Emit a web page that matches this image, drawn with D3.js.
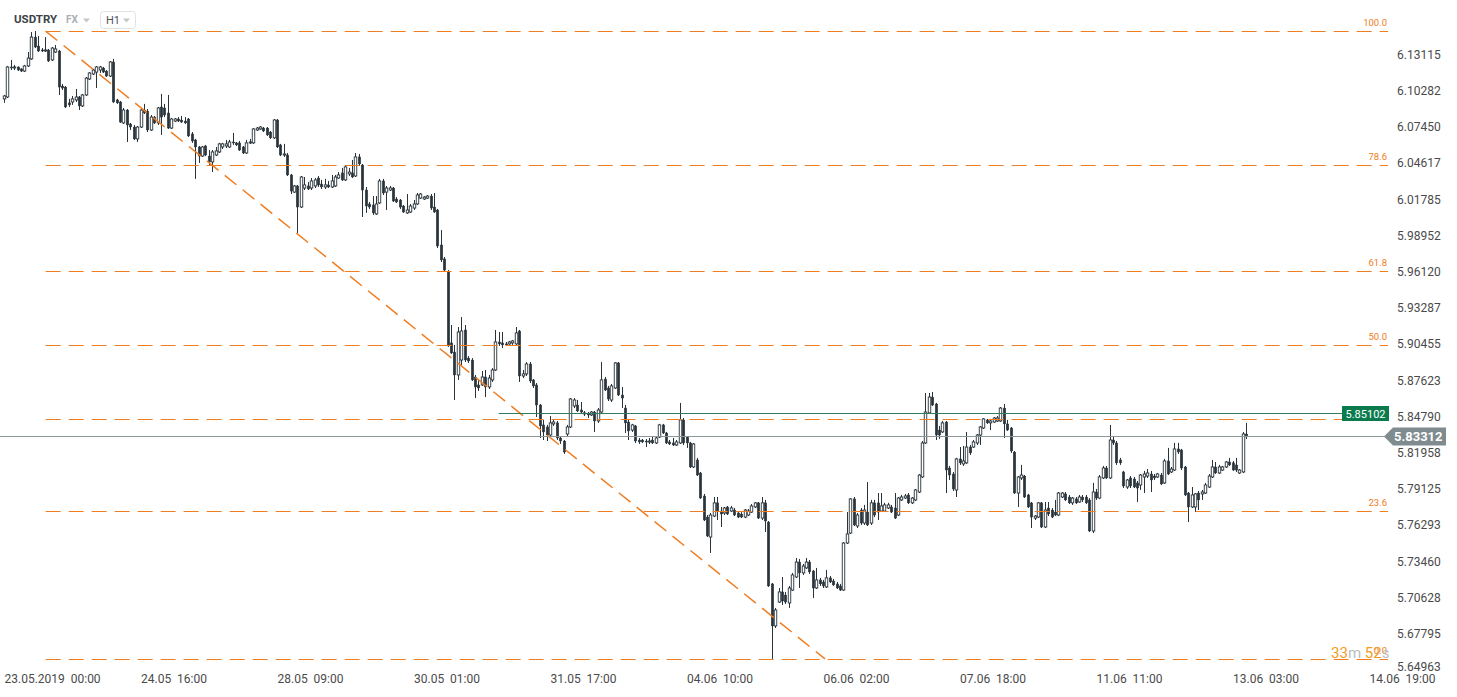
<!DOCTYPE html>
<html>
<head>
<meta charset="utf-8">
<title>USDTRY H1</title>
<script src="https://cdnjs.cloudflare.com/ajax/libs/d3/7.8.5/d3.min.js"></script>
<style>
    html, body { margin: 0; padding: 0; background: #fff; }
    svg { display: block; font-family: Roboto, "Noto Sans", sans-serif; }
</style>
</head>
<body>
<svg id="chart" width="1457" height="697"></svg>
<script>
// USDTRY hourly candles, one array per trading day, rows are [open, high, low, close]
var may23 = [
    [6.0968, 6.0999, 6.0937, 6.0991], [6.0983, 6.1226, 6.0975, 6.1218], [6.1218, 6.1273, 6.1194, 6.1210], [6.1210, 6.1234, 6.1194, 6.1218],
    [6.1218, 6.1222, 6.1187, 6.1194], [6.1203, 6.1207, 6.1178, 6.1186], [6.1186, 6.1234, 6.1178, 6.1226], [6.1226, 6.1335, 6.1218, 6.1288],
    [6.1281, 6.1491, 6.1273, 6.1452], [6.1452, 6.1499, 6.1366, 6.1374], [6.1382, 6.1460, 6.1335, 6.1343], [6.1351, 6.1366, 6.1335, 6.1343],
    [6.1343, 6.1452, 6.1335, 6.1351], [6.1351, 6.1359, 6.1257, 6.1265], [6.1273, 6.1374, 6.1265, 6.1366], [6.1335, 6.1390, 6.1328, 6.1359],
    [6.1343, 6.1351, 6.0999, 6.1061], [6.1069, 6.1085, 6.1038, 6.1053], [6.1061, 6.1069, 6.0897, 6.0905], [6.0937, 6.0968, 6.0905, 6.0921],
    [6.0944, 6.0991, 6.0921, 6.0968], [6.0960, 6.1046, 6.0944, 6.0983], [6.0983, 6.0991, 6.0881, 6.0913], [6.0913, 6.1007, 6.0905, 6.0999]
];
var may24 = [
    [6.0999, 6.1139, 6.0991, 6.1131], [6.1124, 6.1178, 6.1116, 6.1171], [6.1163, 6.1203, 6.1155, 6.1194], [6.1178, 6.1226, 6.1053, 6.1218],
    [6.1194, 6.1226, 6.1171, 6.1218], [6.1210, 6.1218, 6.1171, 6.1178], [6.1186, 6.1194, 6.1140, 6.1147], [6.1147, 6.1265, 6.1139, 6.1257],
    [6.1257, 6.1281, 6.0937, 6.0944], [6.0960, 6.0968, 6.0929, 6.0937], [6.0944, 6.0952, 6.0780, 6.0787], [6.0780, 6.0897, 6.0772, 6.0881],
    [6.0881, 6.0889, 6.0631, 6.0764], [6.0772, 6.0780, 6.0725, 6.0748], [6.0748, 6.0764, 6.0647, 6.0655], [6.0655, 6.0756, 6.0631, 6.0748],
    [6.0748, 6.0889, 6.0740, 6.0881], [6.0881, 6.0929, 6.0850, 6.0858], [6.0873, 6.0889, 6.0709, 6.0725], [6.0725, 6.0842, 6.0717, 6.0826],
    [6.0826, 6.0834, 6.0772, 6.0780], [6.0780, 6.0905, 6.0764, 6.0897], [6.0905, 6.1007, 6.0686, 6.0826]
];
var may27 = [
    [6.0897, 6.0929, 6.0826, 6.0842], [6.0858, 6.0999, 6.0733, 6.0740], [6.0740, 6.0819, 6.0733, 6.0811], [6.0795, 6.0819, 6.0787, 6.0811],
    [6.0811, 6.0826, 6.0787, 6.0795], [6.0803, 6.0834, 6.0780, 6.0787], [6.0795, 6.0826, 6.0772, 6.0780], [6.0811, 6.0819, 6.0670, 6.0678],
    [6.0694, 6.0709, 6.0624, 6.0639], [6.0647, 6.0655, 6.0342, 6.0592], [6.0592, 6.0600, 6.0467, 6.0521], [6.0521, 6.0600, 6.0514, 6.0592],
    [6.0600, 6.0608, 6.0521, 6.0529], [6.0521, 6.0568, 6.0451, 6.0475], [6.0475, 6.0568, 6.0396, 6.0553], [6.0529, 6.0592, 6.0521, 6.0561],
    [6.0553, 6.0624, 6.0545, 6.0616], [6.0592, 6.0624, 6.0576, 6.0616], [6.0600, 6.0647, 6.0584, 6.0616], [6.0592, 6.0647, 6.0584, 6.0631],
    [6.0631, 6.0702, 6.0608, 6.0624], [6.0624, 6.0631, 6.0600, 6.0608], [6.0624, 6.0639, 6.0561, 6.0568], [6.0592, 6.0600, 6.0537, 6.0545]
];
var may28 = [
    [6.0545, 6.0647, 6.0537, 6.0624], [6.0624, 6.0655, 6.0616, 6.0631], [6.0624, 6.0740, 6.0616, 6.0733], [6.0725, 6.0748, 6.0717, 6.0740],
    [6.0733, 6.0756, 6.0725, 6.0748], [6.0740, 6.0748, 6.0709, 6.0717], [6.0740, 6.0748, 6.0678, 6.0686], [6.0709, 6.0717, 6.0655, 6.0663],
    [6.0663, 6.0811, 6.0655, 6.0803], [6.0803, 6.0811, 6.0584, 6.0592], [6.0608, 6.0616, 6.0521, 6.0529], [6.0529, 6.0616, 6.0514, 6.0537],
    [6.0529, 6.0545, 6.0365, 6.0373], [6.0373, 6.0381, 6.0224, 6.0247], [6.0239, 6.0295, 6.0232, 6.0287], [6.0287, 6.0295, 5.9919, 6.0122],
    [6.0122, 6.0365, 6.0114, 6.0357], [6.0271, 6.0357, 6.0255, 6.0295], [6.0287, 6.0318, 6.0255, 6.0263], [6.0271, 6.0349, 6.0255, 6.0326],
    [6.0287, 6.0349, 6.0271, 6.0334], [6.0349, 6.0365, 6.0279, 6.0295], [6.0302, 6.0334, 6.0263, 6.0279], [6.0279, 6.0342, 6.0263, 6.0295]
];
var may29 = [
    [6.0295, 6.0326, 6.0271, 6.0279], [6.0279, 6.0373, 6.0271, 6.0326], [6.0287, 6.0373, 6.0279, 6.0357], [6.0349, 6.0396, 6.0342, 6.0373],
    [6.0389, 6.0428, 6.0326, 6.0334], [6.0334, 6.0451, 6.0326, 6.0436], [6.0381, 6.0428, 6.0365, 6.0396], [6.0389, 6.0490, 6.0349, 6.0357],
    [6.0365, 6.0545, 6.0357, 6.0514], [6.0514, 6.0537, 6.0443, 6.0459], [6.0451, 6.0459, 6.0044, 6.0255], [6.0255, 6.0279, 6.0076, 6.0130],
    [6.0146, 6.0161, 6.0107, 6.0122], [6.0138, 6.0208, 6.0060, 6.0076], [6.0068, 6.0208, 6.0060, 6.0146], [6.0154, 6.0342, 6.0146, 6.0326],
    [6.0326, 6.0342, 6.0216, 6.0232], [6.0239, 6.0287, 6.0099, 6.0271], [6.0255, 6.0287, 6.0247, 6.0271], [6.0271, 6.0279, 6.0161, 6.0169],
    [6.0185, 6.0200, 6.0154, 6.0161], [6.0177, 6.0185, 6.0107, 6.0122], [6.0130, 6.0138, 6.0076, 6.0083], [6.0076, 6.0224, 6.0068, 6.0099]
];
var may30 = [
    [6.0083, 6.0146, 6.0076, 6.0130], [6.0114, 6.0177, 6.0099, 6.0146], [6.0146, 6.0232, 6.0138, 6.0216], [6.0192, 6.0232, 6.0185, 6.0224],
    [6.0185, 6.0208, 6.0177, 6.0200], [6.0192, 6.0216, 6.0185, 6.0208], [6.0208, 6.0224, 6.0099, 6.0114], [6.0122, 6.0232, 6.0076, 6.0083],
    [6.0099, 6.0107, 5.9801, 5.9817], [5.9825, 5.9942, 5.9692, 5.9708], [5.9716, 5.9731, 5.9614, 5.9629], [5.9614, 5.9629, 5.9027, 5.9035],
    [5.9059, 5.9199, 5.8972, 5.8980], [5.8987, 5.9043, 5.8612, 5.8808], [5.8808, 5.9183, 5.8769, 5.9144], [5.8925, 5.9261, 5.8886, 5.9152],
    [5.9160, 5.9199, 5.8909, 5.8925], [5.8940, 5.8956, 5.8902, 5.8917], [5.8925, 5.8940, 5.8761, 5.8769], [5.8792, 5.8808, 5.8627, 5.8714],
    [5.8730, 5.8769, 5.8683, 5.8706], [5.8730, 5.8839, 5.8722, 5.8792], [5.8792, 5.8847, 5.8635, 5.8714], [5.8714, 5.8808, 5.8698, 5.8784]
];
var may31 = [
    [5.8769, 5.8862, 5.8753, 5.8847], [5.8847, 5.9160, 5.8839, 5.9066], [5.9066, 5.9144, 5.9035, 5.9051], [5.9059, 5.9144, 5.9019, 5.9043],
    [5.9051, 5.9066, 5.9035, 5.9043], [5.9051, 5.9074, 5.9043, 5.9066], [5.9059, 5.9082, 5.9043, 5.9074], [5.9051, 5.9183, 5.9043, 5.9137],
    [5.9152, 5.9160, 5.8753, 5.8800], [5.8800, 5.8847, 5.8784, 5.8816], [5.8816, 5.8909, 5.8800, 5.8894], [5.8894, 5.8909, 5.8745, 5.8761],
    [5.8769, 5.8776, 5.8706, 5.8722], [5.8730, 5.8745, 5.8479, 5.8573], [5.8573, 5.8581, 5.8315, 5.8409], [5.8417, 5.8456, 5.8299, 5.8362],
    [5.8401, 5.8417, 5.8291, 5.8338], [5.8338, 5.8487, 5.8322, 5.8433], [5.8425, 5.8456, 5.8409, 5.8440], [5.8433, 5.8448, 5.8299, 5.8315],
    [5.8315, 5.8330, 5.8268, 5.8291], [5.8291, 5.8299, 5.8190, 5.8205], [5.8346, 5.8417, 5.8330, 5.8401]
];
var jun03 = [
    [5.8401, 5.8627, 5.8393, 5.8620], [5.8565, 5.8627, 5.8549, 5.8612], [5.8573, 5.8612, 5.8518, 5.8526], [5.8534, 5.8596, 5.8511, 5.8518],
    [5.8503, 5.8526, 5.8487, 5.8511], [5.8503, 5.8518, 5.8471, 5.8495], [5.8495, 5.8526, 5.8487, 5.8518], [5.8518, 5.8526, 5.8362, 5.8448],
    [5.8448, 5.8549, 5.8433, 5.8534], [5.8518, 5.8909, 5.8511, 5.8769], [5.8776, 5.8792, 5.8683, 5.8690], [5.8706, 5.8722, 5.8604, 5.8620],
    [5.8612, 5.8737, 5.8596, 5.8722], [5.8706, 5.8909, 5.8698, 5.8902], [5.8902, 5.8909, 5.8643, 5.8651], [5.8651, 5.8714, 5.8549, 5.8627],
    [5.8549, 5.8573, 5.8354, 5.8433], [5.8440, 5.8456, 5.8299, 5.8370], [5.8377, 5.8425, 5.8362, 5.8417], [5.8409, 5.8417, 5.8276, 5.8291],
    [5.8299, 5.8315, 5.8268, 5.8284], [5.8299, 5.8307, 5.8276, 5.8284], [5.8291, 5.8307, 5.8244, 5.8284], [5.8284, 5.8315, 5.8268, 5.8291]
];
var jun04 = [
    [5.8299, 5.8330, 5.8268, 5.8276], [5.8276, 5.8330, 5.8268, 5.8315], [5.8322, 5.8425, 5.8315, 5.8417], [5.8417, 5.8425, 5.8346, 5.8354],
    [5.8354, 5.8362, 5.8268, 5.8276], [5.8284, 5.8299, 5.8260, 5.8268], [5.8276, 5.8315, 5.8252, 5.8260], [5.8260, 5.8299, 5.8252, 5.8284],
    [5.8276, 5.8589, 5.8268, 5.8456], [5.8456, 5.8471, 5.8260, 5.8276], [5.8322, 5.8330, 5.8237, 5.8276], [5.8276, 5.8284, 5.8080, 5.8088],
    [5.8088, 5.8276, 5.8080, 5.8268], [5.8143, 5.8159, 5.8017, 5.8025], [5.8041, 5.8049, 5.7838, 5.7845], [5.7861, 5.7877, 5.7665, 5.7673],
    [5.7696, 5.7712, 5.7540, 5.7548], [5.7540, 5.7728, 5.7415, 5.7712], [5.7704, 5.7853, 5.7696, 5.7807], [5.7807, 5.7853, 5.7673, 5.7743],
    [5.7743, 5.7775, 5.7618, 5.7720], [5.7728, 5.7775, 5.7712, 5.7767], [5.7775, 5.7783, 5.7712, 5.7720], [5.7743, 5.7783, 5.7735, 5.7767]
];
var jun05 = [
    [5.7751, 5.7767, 5.7704, 5.7712], [5.7728, 5.7735, 5.7688, 5.7696], [5.7720, 5.7735, 5.7688, 5.7696], [5.7696, 5.7759, 5.7688, 5.7751],
    [5.7712, 5.7759, 5.7704, 5.7743], [5.7735, 5.7798, 5.7728, 5.7783], [5.7775, 5.7814, 5.7767, 5.7807], [5.7807, 5.7814, 5.7681, 5.7688],
    [5.7688, 5.7853, 5.7673, 5.7807], [5.7807, 5.7830, 5.7579, 5.7665], [5.7657, 5.7665, 5.7149, 5.7157], [5.7173, 5.7180, 5.6586, 5.6844],
    [5.6844, 5.6985, 5.6828, 5.6969], [5.7031, 5.7141, 5.7024, 5.7110], [5.7110, 5.7227, 5.7008, 5.7039], [5.7086, 5.7110, 5.7016, 5.7031],
    [5.7024, 5.7157, 5.6985, 5.7141], [5.7125, 5.7259, 5.7118, 5.7243], [5.7227, 5.7376, 5.7220, 5.7344], [5.7344, 5.7368, 5.7141, 5.7259],
    [5.7259, 5.7329, 5.7243, 5.7313], [5.7298, 5.7376, 5.7290, 5.7344], [5.7344, 5.7360, 5.7251, 5.7267], [5.7274, 5.7282, 5.7063, 5.7141]
];
var jun06 = [
    [5.7141, 5.7298, 5.7133, 5.7204], [5.7204, 5.7220, 5.7157, 5.7173], [5.7188, 5.7204, 5.7141, 5.7157], [5.7149, 5.7282, 5.7141, 5.7220],
    [5.7220, 5.7235, 5.7180, 5.7188], [5.7196, 5.7212, 5.7157, 5.7165], [5.7173, 5.7188, 5.7133, 5.7141], [5.7157, 5.7173, 5.7118, 5.7125],
    [5.7125, 5.7501, 5.7118, 5.7493], [5.7493, 5.7735, 5.7485, 5.7564], [5.7571, 5.7845, 5.7564, 5.7838], [5.7838, 5.7853, 5.7626, 5.7634],
    [5.7626, 5.7728, 5.7610, 5.7712], [5.7751, 5.7767, 5.7634, 5.7649], [5.7649, 5.7791, 5.7634, 5.7751], [5.7735, 5.7970, 5.7626, 5.7634],
    [5.7649, 5.7830, 5.7634, 5.7807], [5.7807, 5.7830, 5.7696, 5.7712], [5.7807, 5.7884, 5.7673, 5.7735], [5.7743, 5.7884, 5.7735, 5.7783],
    [5.7743, 5.7807, 5.7735, 5.7791], [5.7767, 5.7807, 5.7759, 5.7791], [5.7775, 5.7791, 5.7728, 5.7735], [5.7767, 5.7884, 5.7681, 5.7688]
];
var jun07 = [
    [5.7712, 5.7853, 5.7704, 5.7845], [5.7830, 5.7869, 5.7822, 5.7853], [5.7845, 5.7877, 5.7838, 5.7861], [5.7869, 5.7884, 5.7798, 5.7807],
    [5.7807, 5.7853, 5.7798, 5.7845], [5.7830, 5.7916, 5.7822, 5.7908], [5.7892, 5.8033, 5.7884, 5.8025], [5.8010, 5.8291, 5.8002, 5.8276],
    [5.8276, 5.8667, 5.8268, 5.8518], [5.8511, 5.8667, 5.8503, 5.8635], [5.8635, 5.8675, 5.8565, 5.8573], [5.8581, 5.8589, 5.8299, 5.8338],
    [5.8377, 5.8409, 5.8307, 5.8338], [5.8362, 5.8448, 5.8354, 5.8433], [5.8440, 5.8448, 5.7884, 5.8064], [5.8080, 5.8096, 5.7986, 5.8025],
    [5.8033, 5.8049, 5.7900, 5.7916], [5.7908, 5.8159, 5.7853, 5.8151], [5.8151, 5.8244, 5.8104, 5.8120], [5.8112, 5.8252, 5.8096, 5.8135],
    [5.8120, 5.8362, 5.8112, 5.8244], [5.8244, 5.8260, 5.8182, 5.8198], [5.8244, 5.8299, 5.8237, 5.8284]
];
var jun10 = [
    [5.8276, 5.8346, 5.8260, 5.8338], [5.8338, 5.8409, 5.8260, 5.8401], [5.8393, 5.8471, 5.8385, 5.8464], [5.8456, 5.8464, 5.8425, 5.8433],
    [5.8433, 5.8464, 5.8377, 5.8448], [5.8440, 5.8479, 5.8433, 5.8471], [5.8448, 5.8487, 5.8440, 5.8471], [5.8448, 5.8557, 5.8440, 5.8549],
    [5.8549, 5.8581, 5.8315, 5.8425], [5.8425, 5.8456, 5.8370, 5.8377], [5.8393, 5.8401, 5.8198, 5.8213], [5.8205, 5.8213, 5.7877, 5.7884],
    [5.7884, 5.8017, 5.7775, 5.8010], [5.8002, 5.8104, 5.7986, 5.8025], [5.8017, 5.8025, 5.7845, 5.7853], [5.7869, 5.7877, 5.7767, 5.7775],
    [5.7807, 5.7814, 5.7610, 5.7696], [5.7688, 5.7712, 5.7673, 5.7704], [5.7696, 5.7814, 5.7688, 5.7807], [5.7807, 5.7814, 5.7610, 5.7618],
    [5.7618, 5.7814, 5.7610, 5.7751], [5.7767, 5.7814, 5.7704, 5.7720], [5.7751, 5.7767, 5.7688, 5.7696], [5.7735, 5.7830, 5.7704, 5.7712]
];
var jun11 = [
    [5.7712, 5.7892, 5.7704, 5.7884], [5.7853, 5.7892, 5.7845, 5.7884], [5.7877, 5.7892, 5.7822, 5.7830], [5.7853, 5.7869, 5.7798, 5.7807],
    [5.7807, 5.7853, 5.7791, 5.7845], [5.7838, 5.7853, 5.7798, 5.7807], [5.7814, 5.7869, 5.7807, 5.7853], [5.7853, 5.7869, 5.7814, 5.7830],
    [5.7853, 5.7869, 5.7798, 5.7807], [5.7830, 5.7845, 5.7579, 5.7587], [5.7587, 5.7963, 5.7571, 5.7892], [5.7892, 5.7916, 5.7830, 5.7845],
    [5.7845, 5.8025, 5.7838, 5.8010], [5.8002, 5.8096, 5.7994, 5.8080], [5.8080, 5.8096, 5.7994, 5.8002], [5.8002, 5.8417, 5.7994, 5.8299],
    [5.8299, 5.8330, 5.8260, 5.8276], [5.8276, 5.8291, 5.8104, 5.8120], [5.8143, 5.8159, 5.8104, 5.8120], [5.8049, 5.8057, 5.7923, 5.7939],
    [5.7931, 5.7994, 5.7916, 5.7986], [5.8002, 5.8017, 5.7923, 5.7939], [5.7994, 5.8010, 5.7923, 5.7931], [5.7963, 5.7978, 5.7814, 5.7923]
];
var jun12 = [
    [5.7947, 5.8033, 5.7908, 5.8025], [5.8010, 5.8057, 5.7884, 5.8033], [5.8017, 5.8072, 5.8002, 5.8041], [5.8033, 5.8057, 5.7892, 5.7986],
    [5.8017, 5.8033, 5.7986, 5.8002], [5.8010, 5.8041, 5.8002, 5.8033], [5.8025, 5.8041, 5.7947, 5.7955], [5.7963, 5.8151, 5.7955, 5.8135],
    [5.8135, 5.8237, 5.8025, 5.8033], [5.8049, 5.8088, 5.8041, 5.8072], [5.8064, 5.8276, 5.8057, 5.8229], [5.8229, 5.8276, 5.8190, 5.8205],
    [5.8221, 5.8229, 5.8064, 5.8080], [5.8088, 5.8096, 5.7861, 5.7869], [5.7884, 5.7892, 5.7657, 5.7775], [5.7775, 5.7931, 5.7767, 5.7869],
    [5.7775, 5.7884, 5.7735, 5.7877], [5.7884, 5.7900, 5.7751, 5.7830], [5.7877, 5.7908, 5.7830, 5.7892], [5.7884, 5.7963, 5.7877, 5.7947],
    [5.7931, 5.8033, 5.7923, 5.8017], [5.8010, 5.8143, 5.8002, 5.8088], [5.8088, 5.8127, 5.8033, 5.8041], [5.8041, 5.8104, 5.8033, 5.8088]
];
var jun13 = [
    [5.8064, 5.8096, 5.8057, 5.8088], [5.8088, 5.8135, 5.8080, 5.8127], [5.8127, 5.8159, 5.8096, 5.8104], [5.8120, 5.8135, 5.8057, 5.8064],
    [5.8104, 5.8159, 5.8049, 5.8064], [5.8041, 5.8072, 5.8033, 5.8064], [5.8049, 5.8362, 5.8041, 5.8346], [5.8346, 5.8433, 5.8307, 5.83312]
];

// price axis labels and time axis labels (every 40 hourly bars)
var priceTicks = [6.13115, 6.10282, 6.07450, 6.04617, 6.01785, 5.98952, 5.96120, 5.93287, 5.90455,
    5.87623, 5.84790, 5.81958, 5.79125, 5.76293, 5.73460, 5.70628, 5.67795, 5.64963];
var timeTickBars = [0, 40, 80, 120, 160, 200, 240, 280, 320, 360, 400];
var timeTickLabels = ["23.05.2019  00:00", "24.05  16:00", "28.05  09:00", "30.05  01:00", "31.05  17:00",
    "04.06  10:00", "06.06  02:00", "07.06  18:00", "11.06  11:00", "13.06  03:00", "14.06  19:00"];

// user drawings: trend line from the top to the bottom, fibonacci levels on the same swing
var swingHigh = { bar: 12.2, price: 6.1499 };
var swingLow = { bar: 240.6, price: 5.6586 };
var fibLevels = [100, 78.6, 61.8, 50, 38.2, 23.6, 0];
var alertLevel = { bar: 145, price: 5.85102 };
var countdown = ["33", "m ", "52", "s"];

var candles = [].concat(may23, may24, may27, may28, may29, may30, may31, jun03, jun04,
    jun05, jun06, jun07, jun10, jun11, jun12, jun13).map(function (d, i) {
    return { bar: i, open: d[0], high: d[1], low: d[2], close: d[3] };
});
var lastClose = candles[candles.length - 1].close;

var plotRight = 1388;
var dark = "#29333a";
var orange = "#ef7d22";

// bar index -> x, price -> y
var x = d3.scaleLinear().domain([0, 400]).range([4, 1369]);
var y = d3.scaleLinear().domain([5.64836, 6.1742]).range([672, 0]);

var svg = d3.select("#chart");

// candles
var bodyW = 2.5;
var candle = svg.append("g").selectAll("g")
    .data(candles)
    .enter().append("g");

candle.append("line")
    .attr("x1", function (d) { return Math.round(x(d.bar)) + 0.5; })
    .attr("x2", function (d) { return Math.round(x(d.bar)) + 0.5; })
    .attr("y1", function (d) { return y(d.high); })
    .attr("y2", function (d) { return y(d.low); })
    .attr("stroke", dark)
    .attr("stroke-width", 1);

candle.append("rect")
    .attr("x", function (d) { return Math.round(x(d.bar)) + 0.5 - bodyW / 2; })
    .attr("y", function (d) { return y(Math.max(d.open, d.close)); })
    .attr("width", bodyW)
    .attr("height", function (d) { return Math.max(1, Math.abs(y(d.open) - y(d.close))); })
    .attr("fill", function (d) { return d.close >= d.open ? "#fff" : dark; })
    .attr("stroke", dark)
    .attr("stroke-width", function (d) { return d.close >= d.open ? 0.9 : 0.4; });

// fibonacci retracement lines
var fib = svg.append("g");
fibLevels.forEach(function (lv) {
    var p = swingLow.price + (swingHigh.price - swingLow.price) * lv / 100;
    fib.append("line")
        .attr("x1", x(swingHigh.bar))
        .attr("x2", plotRight)
        .attr("y1", Math.round(y(p)) + 0.5)
        .attr("y2", Math.round(y(p)) + 0.5)
        .attr("stroke", orange)
        .attr("stroke-width", 1)
        .attr("stroke-dasharray", "15,8");
    fib.append("text")
        .attr("x", plotRight - 1)
        .attr("y", y(p) - 5)
        .attr("text-anchor", "end")
        .attr("font-size", "9.5px")
        .attr("fill", orange)
        .text(lv.toFixed(1));
});

// trend line
svg.append("line")
    .attr("x1", x(swingHigh.bar))
    .attr("y1", y(swingHigh.price))
    .attr("x2", x(swingLow.bar))
    .attr("y2", y(swingLow.price))
    .attr("stroke", orange)
    .attr("stroke-width", 1.5)
    .attr("stroke-dasharray", "15,8");

// alert level (green) and current price (grey)
var yAlert = Math.round(y(alertLevel.price)) + 0.5;
svg.append("line")
    .attr("x1", x(alertLevel.bar)).attr("x2", 1342)
    .attr("y1", yAlert).attr("y2", yAlert)
    .attr("stroke", "#2f7d5c").attr("stroke-width", 1);

var yLast = Math.round(y(lastClose)) + 0.5;
svg.append("line")
    .attr("x1", 0).attr("x2", 1386)
    .attr("y1", yLast).attr("y2", yLast)
    .attr("stroke", "#8d979a").attr("stroke-width", 1);

svg.append("rect")
    .attr("x", 1342).attr("y", yAlert - 7.5)
    .attr("width", 47).attr("height", 15)
    .attr("fill", "#0b7a4d");
svg.append("text")
    .attr("x", 1365.5).attr("y", yAlert + 4)
    .attr("text-anchor", "middle")
    .attr("font-size", "11px")
    .attr("fill", "#fff")
    .text(alertLevel.price.toFixed(5));

svg.append("path")
    .attr("d", "M1384," + yLast + "L1393," + (yLast - 9) + "H1446V" + (yLast + 9) + "H1393Z")
    .attr("fill", "#7f8b8f");
svg.append("text")
    .attr("x", 1394).attr("y", yLast + 4.5)
    .attr("font-size", "13px")
    .attr("font-weight", "bold")
    .attr("fill", "#fff")
    .text(lastClose.toFixed(5));

// price axis on the right
var yAxis = svg.append("g")
    .attr("transform", "translate(1397,0)")
    .call(d3.axisRight(y).tickValues(priceTicks).tickSize(0).tickPadding(0)
        .tickFormat(function (d) { return d.toFixed(5); }));
yAxis.select(".domain").remove();
yAxis.selectAll("text")
    .attr("font-family", "Roboto, sans-serif")
    .attr("font-size", "12px")
    .attr("fill", "#4a4a4a");
// the lowest label is pushed up above the time axis
yAxis.selectAll(".tick")
    .attr("transform", function (d) { return "translate(0," + Math.min(y(d), 667) + ")"; });

// time axis
var xAxis = svg.append("g")
    .attr("transform", "translate(0,672)")
    .call(d3.axisBottom(x).tickValues(timeTickBars).tickSize(0).tickPadding(0)
        .tickFormat(function (d, i) { return timeTickLabels[i]; }));
xAxis.select(".domain").remove();
xAxis.selectAll("text")
    .attr("text-anchor", "start")
    .attr("dy", "10.5px")
    .attr("font-family", "Roboto, sans-serif")
    .attr("font-size", "12px")
    .attr("fill", "#4a4a4a")
    .style("white-space", "pre");

// candle countdown
var cd = svg.append("text")
    .attr("x", 1331).attr("y", 658)
    .attr("font-size", "15px")
    .style("white-space", "pre");
countdown.forEach(function (t, i) {
    cd.append("tspan")
        .attr("fill", i % 2 === 0 ? "#f39a1e" : "#b9bfc2")
        .text(t);
});

// header
svg.append("text")
    .attr("x", 14).attr("y", 23)
    .attr("font-size", "11.5px")
    .attr("font-weight", "bold")
    .attr("fill", "#3c4347")
    .text("USDTRY");
svg.append("text")
    .attr("x", 66).attr("y", 23)
    .attr("font-size", "10px")
    .attr("font-weight", "bold")
    .attr("fill", "#a9afb2")
    .text("FX");
svg.append("path")
    .attr("d", "M83,18.5h7l-3.5,4z")
    .attr("fill", "#c3c8ca");
svg.append("rect")
    .attr("x", 100.5).attr("y", 11.5)
    .attr("width", 35).attr("height", 17)
    .attr("rx", 3)
    .attr("fill", "#fff")
    .attr("stroke", "#dfe3e5");
svg.append("text")
    .attr("x", 106).attr("y", 24)
    .attr("font-size", "11px")
    .attr("fill", "#4d5558")
    .text("H1");
svg.append("path")
    .attr("d", "M123,18.5h7l-3.5,4z")
    .attr("fill", "#c3c8ca");
</script>
</body>
</html>
